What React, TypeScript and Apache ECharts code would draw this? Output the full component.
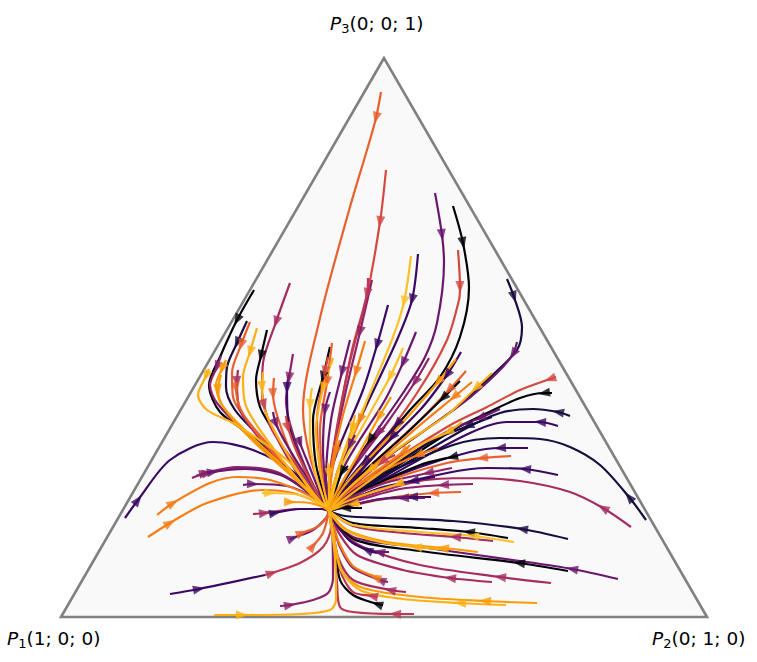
import React, { useEffect, useRef } from "react";
import * as echarts from "echarts";

// Every path runs from its start to the common node; its second point carries the arrow.
const vertices = [[384, 58], [61, 617], [707, 617]];
const node = [329, 511];
const shadesOfInferno = ["#020109", "#190c3e", "#3a0963", "#6a176e", "#8c2369", "#a52c60", "#bb3754", "#d44842", "#e8602d", "#f57d15", "#fb9b06", "#fcb014", "#fac228"];

const leftPaths = [
  [[254, 290], [237, 320], [220, 357], [209, 385], [220, 412], [253, 437], [295, 477]],
  [[247, 321], [237, 343], [227, 367], [226, 387], [235, 410], [260, 437], [297, 479]],
  [[250, 322], [241, 345], [232, 373], [233, 397], [247, 420], [297, 477]],
  [[221, 356], [217, 367], [210, 385], [217, 403], [250, 437], [297, 479]],
  [[226, 360], [222, 369], [216, 385], [222, 405], [250, 435], [297, 479]],
  [[221, 375], [218, 390], [224, 408], [252, 440], [297, 481]],
  [[257, 328], [250, 352], [243, 377], [245, 403], [260, 430], [300, 482]],
  [[267, 330], [261, 356], [256, 380], [260, 407], [273, 430], [305, 485]],
  [[290, 283], [276, 322], [263, 363], [262, 393], [272, 428], [305, 485]],
  [[238, 370], [237, 382], [240, 410], [265, 445], [302, 484]],
  [[237, 377], [236, 388], [242, 412], [268, 447], [302, 484]],
  [[263, 372], [262, 387], [266, 413], [285, 450], [310, 490]],
  [[274, 378], [273, 394], [277, 415], [292, 455], [312, 490]],
  [[262, 393], [264, 405], [272, 430], [296, 465], [315, 493]],
  [[293, 354], [289, 378], [286, 400], [295, 440], [318, 495]],
  [[289, 374], [287, 388], [288, 420], [305, 470], [320, 497]],
  [[273, 412], [276, 424], [288, 447], [315, 490]],
  [[286, 416], [288, 428], [298, 455], [318, 495]],
  [[209, 369], [206, 376], [198, 395], [207, 410], [233, 423], [287, 460], [315, 495]],
  [[312, 388], [310, 405], [310, 440], [316, 475], [325, 503]],
  [[299, 437], [300, 443], [310, 468], [322, 498]],
  [[125, 518], [138, 500], [170, 460], [213, 442], [253, 450], [293, 472], [320, 500]],
  [[192, 478], [205, 473], [237, 467], [277, 472], [317, 498]],
  [[196, 476], [208, 473], [240, 468], [280, 474], [317, 499]],
  [[200, 476], [213, 472], [245, 469], [283, 476], [318, 500]],
  [[243, 485], [253, 484], [287, 486], [318, 500]],
  [[262, 493], [270, 493], [300, 495], [322, 505]],
  [[287, 502], [290, 502], [310, 503], [323, 507]],
  [[157, 515], [173, 503], [210, 483], [237, 477], [270, 480], [312, 497]],
  [[148, 537], [170, 523], [207, 503], [263, 490], [293, 493], [318, 503]],
];
const leftShades = [0, 1, 8, 4, 10, 10, 11, 0, 5, 5, 8, 11, 8, 6, 4, 2, 3, 7, 11, 12, 3, 2, 4, 4, 3, 3, 12, 10, 9, 9];

const upperPaths = [
  [[381, 92], [376, 118], [367, 150], [350, 207], [320, 318], [303, 410], [310, 457], [325, 500]],
  [[386, 170], [380, 222], [367, 295], [352, 350], [337, 430], [329, 490]],
  [[372, 280], [360, 332], [345, 395], [333, 455], [328, 495]],
  [[368, 278], [367, 294], [348, 370], [334, 445], [328, 495]],
  [[411, 256], [404, 302], [393, 337], [370, 393], [340, 465]],
  [[418, 254], [412, 300], [397, 340], [363, 413], [338, 470]],
  [[388, 305], [377, 345], [363, 390], [333, 465]],
  [[416, 332], [403, 363], [385, 400], [345, 465]],
  [[403, 348], [390, 377], [370, 413], [340, 470]],
  [[365, 341], [356, 372], [343, 415], [331, 470]],
  [[350, 340], [342, 372], [331, 420], [326, 480]],
  [[330, 347], [323, 377], [313, 420], [316, 465], [326, 500]],
  [[332, 343], [327, 382], [320, 430], [323, 480]],
  [[328, 357], [325, 372], [317, 420], [320, 470], [327, 500]],
  [[333, 358], [323, 388], [316, 430], [321, 475], [327, 502]],
  [[330, 392], [325, 410], [323, 450], [326, 490]],
  [[355, 415], [352, 428], [342, 458], [332, 490]],
  [[391, 397], [379, 417], [358, 455], [335, 495]],
  [[366, 403], [360, 420], [345, 455]],
  [[340, 440], [336, 452], [331, 480]],
  [[328, 463], [329, 474], [329, 495]],
];
const upperShades = [8, 7, 4, 6, 12, 2, 2, 3, 12, 9, 3, 0, 8, 7, 11, 3, 11, 10, 9, 9, 11];

const rightPaths = [
  [[453, 206], [463, 243], [469, 288], [460, 337], [440, 377], [410, 410], [360, 470]],
  [[458, 250], [460, 287], [459, 300], [447, 340], [417, 393], [360, 472]],
  [[435, 193], [442, 235], [444, 263], [437, 323], [425, 357], [403, 393], [350, 470]],
  [[507, 279], [514, 297], [522, 327], [517, 350], [487, 380], [453, 410], [370, 470]],
  [[517, 342], [513, 354], [497, 373], [463, 403], [370, 470]],
  [[429, 358], [415, 382], [387, 423], [345, 480]],
  [[456, 359], [438, 382], [405, 420], [345, 485]],
  [[461, 352], [447, 375], [420, 410], [345, 485]],
  [[466, 371], [449, 390], [420, 420], [350, 485]],
  [[460, 381], [443, 398], [410, 430], [350, 485]],
  [[472, 382], [454, 397], [420, 425], [350, 487]],
  [[492, 373], [476, 388], [447, 415], [400, 447], [350, 487]],
  [[556, 377], [550, 379], [520, 390], [487, 407], [447, 427], [370, 477]],
  [[552, 393], [544, 393], [520, 398], [487, 413], [453, 430], [387, 473]],
  [[570, 416], [558, 412], [533, 409], [500, 413], [463, 430], [387, 475]],
  [[558, 426], [540, 422], [507, 422], [470, 433], [390, 476]],
  [[500, 409], [480, 418], [450, 430], [390, 467], [345, 497]],
  [[492, 417], [468, 426], [430, 442], [360, 490]],
  [[462, 422], [448, 432], [420, 445], [350, 495]],
  [[646, 520], [629, 497], [600, 465], [570, 447], [540, 439], [500, 438], [453, 445], [375, 480]],
  [[528, 448], [500, 448], [470, 452], [420, 467], [360, 492]],
  [[511, 456], [482, 458], [447, 463], [390, 480], [345, 500]],
  [[458, 456], [452, 457], [420, 465], [350, 497]],
  [[558, 475], [525, 469], [487, 468], [447, 473], [370, 492]],
  [[631, 527], [603, 508], [570, 492], [520, 481], [470, 478], [420, 481], [345, 503]],
  [[438, 448], [418, 455], [385, 470], [350, 490]],
  [[452, 468], [428, 473], [385, 483], [345, 500]],
  [[435, 477], [413, 481], [380, 488], [345, 503]],
  [[473, 484], [443, 485], [400, 489], [350, 503]],
  [[403, 480], [398, 484], [375, 491], [343, 503]],
  [[461, 492], [433, 493], [395, 497], [345, 507]],
  [[431, 497], [412, 497], [380, 499], [345, 507]],
  [[425, 498], [403, 498], [375, 500], [345, 507]],
  [[360, 504], [353, 504], [340, 507]],
  [[362, 508], [345, 508], [335, 509]],
  [[348, 466], [342, 472], [336, 488]],
  [[370, 458], [365, 462], [345, 486]],
  [[376, 434], [370, 440], [345, 480]],
  [[398, 432], [392, 437], [355, 478]],
  [[385, 427], [378, 433], [350, 470]],
  [[402, 419], [397, 424], [350, 478]],
  [[355, 435], [350, 445], [337, 475]],
  [[410, 445], [403, 452], [350, 490]],
  [[395, 455], [382, 462], [345, 493]],
  [[378, 465], [370, 470], [342, 495]],
];
const rightShades = [0, 7, 3, 1, 3, 4, 10, 2, 8, 0, 9, 11, 7, 0, 1, 2, 3, 1, 11, 1, 2, 8, 0, 2, 5, 9, 4, 2, 4, 11, 8, 2, 3, 11, 0, 0, 2, 0, 2, 4, 2, 3, 9, 6, 11];

const lowerPaths = [
  [[568, 539], [522, 529], [453, 521], [387, 518], [345, 516]],
  [[508, 538], [469, 532], [420, 528], [353, 523]],
  [[514, 542], [473, 536], [420, 532], [353, 525]],
  [[493, 541], [455, 537], [403, 533], [353, 526]],
  [[618, 579], [572, 569], [520, 561], [420, 547], [353, 537]],
  [[568, 571], [519, 563], [420, 551], [353, 539]],
  [[478, 552], [443, 548], [387, 542], [347, 530]],
  [[447, 550], [416, 547], [380, 542], [345, 530]],
  [[551, 583], [500, 577], [420, 565], [363, 547], [340, 530]],
  [[492, 582], [450, 578], [403, 570], [357, 555], [340, 535]],
  [[389, 552], [379, 552], [353, 543], [337, 525]],
  [[377, 553], [367, 550], [350, 541], [337, 525]],
  [[388, 582], [380, 580], [353, 568], [340, 547], [333, 525]],
  [[383, 580], [375, 577], [353, 566], [340, 545], [333, 525]],
  [[406, 592], [390, 590], [353, 580], [338, 557], [332, 525]],
  [[537, 603], [485, 601], [420, 597], [363, 588], [343, 573], [335, 543]],
  [[506, 605], [460, 603], [403, 599], [360, 590], [340, 568], [333, 530]],
  [[377, 597], [372, 596], [353, 592], [340, 570], [333, 530]],
  [[383, 605], [377, 604], [353, 595], [340, 580], [335, 545]],
  [[414, 614], [395, 614], [353, 612], [340, 607], [337, 583], [333, 530]],
  [[214, 615], [242, 615], [300, 614], [330, 610], [336, 600], [335, 557], [331, 525]],
  [[280, 606], [290, 605], [313, 600], [328, 593], [333, 578], [332, 525]],
  [[170, 594], [199, 589], [265, 575]],
  [[265, 575], [272, 573], [300, 563], [323, 547], [331, 527]],
  [[310, 549], [313, 546], [323, 533]],
  [[290, 539], [293, 538], [313, 530], [326, 518]],
  [[299, 534], [302, 533], [317, 527], [327, 517]],
  [[253, 514], [265, 513], [297, 509], [322, 509]],
  [[270, 515], [275, 513], [300, 509], [322, 509]],
];
const lowerShades = [1, 0, 12, 5, 3, 0, 10, 11, 5, 5, 3, 2, 4, 9, 5, 10, 11, 6, 0, 6, 11, 4, 2, 6, 8, 3, 8, 5, 2];

const cornerLabels = [
  { text: "{i|P}{s|3}{n|(0; 0; 1)}", x: 330, y: 23 },
  { text: "{i|P}{s|1}{n|(1; 0; 0)}", x: 7, y: 638 },
  { text: "{i|P}{s|2}{n|(0; 1; 0)}", x: 652, y: 638 },
];

const allPaths = [...leftPaths, ...upperPaths, ...rightPaths, ...lowerPaths];
const allShades = [...leftShades, ...upperShades, ...rightShades, ...lowerShades];

function buildSeries() {
  // Declared order, with the lightest strokes lifted on top as in the reference's centre.
  const order = allPaths
    .map((_, i) => i)
    .sort((a, b) => Number(allShades[a] >= 10) - Number(allShades[b] >= 10) || a - b);
  const splitPath = leftPaths.length + upperPaths.length + rightPaths.length + 22;
  const series: any[] = [
    {
      type: "custom",
      data: vertices,
      clip: false,
      silent: true,
      z: 1,
      renderItem: (params: any, api: any) => {
        if (params.dataIndex !== 0) return null;
        return {
          type: "polygon",
          shape: { points: vertices.map((v) => api.coord(v)) },
          style: { fill: "#f9f9f9", stroke: "#808080", lineWidth: 2.6, lineJoin: "miter" },
        };
      },
    },
  ];
  for (const i of order) {
    const p = allPaths[i];
    const color = shadesOfInferno[allShades[i]];
    series.push({
      type: "line",
      data: i === splitPath ? p : [...p, node],
      smooth: 0.3,
      showSymbol: false,
      silent: true,
      clip: false,
      z: 2,
      lineStyle: { color, width: 2.2 },
    });
    const dx = p[2][0] - p[0][0];
    const dy = p[2][1] - p[0][1];
    series.push({
      type: "scatter",
      data: [p[1]],
      symbol: "triangle",
      symbolSize: [9, 12],
      symbolRotate: (Math.atan2(-dx, -dy) * 180) / Math.PI,
      silent: true,
      clip: false,
      z: 3,
      itemStyle: { color },
    });
  }
  return series;
}

export default function App() {
  const ref = useRef<HTMLDivElement>(null);
  useEffect(() => {
    const chart = echarts.init(ref.current!, undefined, { renderer: "svg" });
    chart.setOption({
      animation: false,
      backgroundColor: "#ffffff",
      grid: { left: 0, right: 0, top: 0, bottom: 0 },
      xAxis: { type: "value", min: 0, max: 757, show: false },
      yAxis: { type: "value", min: 0, max: 662, inverse: true, show: false },
      series: buildSeries(),
      graphic: cornerLabels.map((l) => ({
        type: "text",
        x: l.x,
        y: l.y,
        z: 10,
        style: {
          text: l.text,
          fill: "#000000",
          verticalAlign: "middle",
          rich: {
            i: { fontFamily: "DejaVu Sans", fontStyle: "italic", fontSize: 18.5, fill: "#000" },
            s: { fontFamily: "DejaVu Sans", fontSize: 13, padding: [10, 0, 0, 0], fill: "#000" },
            n: { fontFamily: "DejaVu Sans", fontSize: 18.5, fill: "#000" },
          },
        },
      })),
    });
    return () => chart.dispose();
  }, []);
  return <div ref={ref} style={{ position: "fixed", left: 0, top: 0, width: 757, height: 662 }} />;
}
